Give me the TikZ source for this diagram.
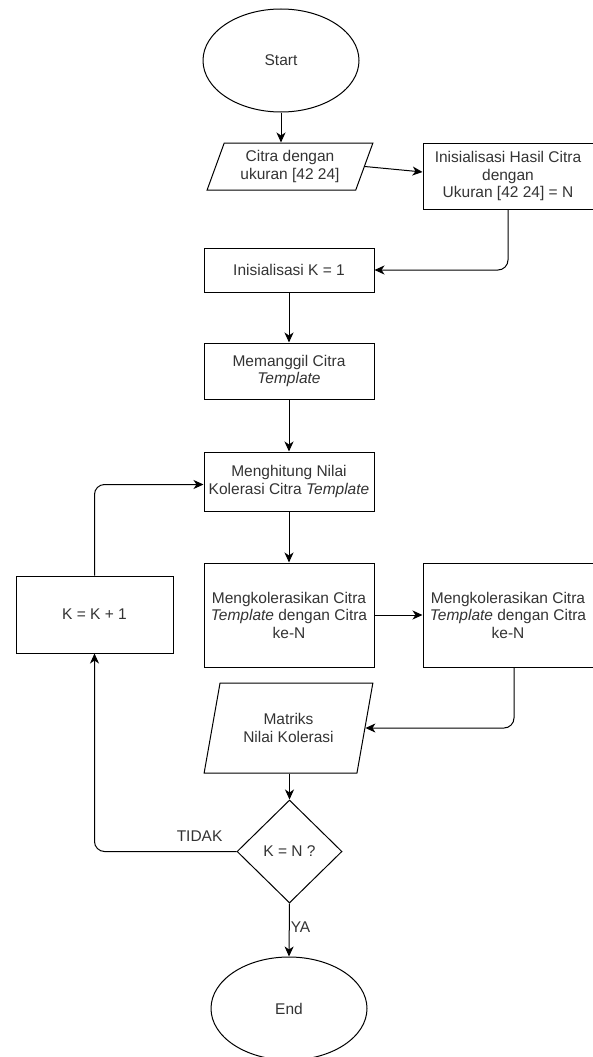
\documentclass[tikz,border=0pt]{standalone}
\usepackage{fontspec}
\setmainfont{Liberation Sans}
\usetikzlibrary{shapes.geometric}
\usetikzlibrary{arrows.meta}
\definecolor{txtgrey}{HTML}{333333}
\tikzset{
  box/.style={draw, line width=1pt, inner sep=0pt, align=center, text=txtgrey, font=\fontsize{15.5}{17.5}\selectfont},
  proc/.style={box, rectangle, minimum width=170pt},
  io/.style={box, trapezium, trapezium stretches=true},
  term/.style={box, ellipse, minimum width=156pt, minimum height=103pt},
  decide/.style={box, diamond, minimum width=105pt, minimum height=103pt},
  arr/.style={draw, line width=1pt, -{Stealth[length=10pt,width=9pt,inset=3pt]}},
  lbl/.style={text=txtgrey, font=\fontsize{15.5}{17.5}\selectfont, inner sep=0pt}
}

\begin{document}
\begin{tikzpicture}[x=1pt, y=-1pt]
        \useasboundingbox (0,0) rectangle (592,1057);
        \node[term] (start) at (281,60.5) {Start};
        \node[io, trapezium left angle=68, trapezium right angle=112, minimum width=166pt, minimum height=47pt] (citra) at (290,166.5) {Citra dengan\\ukuran [42 24]};
        \node[proc, minimum height=66pt] (hasil) at (508,176) {Inisialisasi Hasil Citra\\dengan\\Ukuran [42 24] = N};
        \node[proc, minimum height=44pt] (initk) at (289,270) {Inisialisasi K = 1};
        \node[proc, minimum height=56pt] (panggil) at (289,371) {Memanggil Citra\\\textit{Template}};
        \node[proc, minimum height=59pt] (hitung) at (289,481.5) {Menghitung Nilai\\Kolerasi Citra \textit{Template}};
        \node[proc, minimum height=104pt] (korel1) at (289,615) {Mengkolerasikan Citra\\\textit{Template} dengan Citra\\ke-N};
        \node[proc, minimum height=104pt] (korel2) at (508,615) {Mengkolerasikan Citra\\\textit{Template} dengan Citra\\ke-N};
        \node[proc, minimum width=157pt, minimum height=77pt] (tambah) at (94.5,614.5) {K = K + 1};
        \node[io, trapezium left angle=70, trapezium right angle=110, minimum width=169pt, minimum height=90pt] (matriks) at (288.5,728) {Matriks\\Nilai Kolerasi};
        \node[decide] (cek) at (289.5,851.5) {K = N ?};
        \node[term] (stop) at (289,1008.5) {End};

        \draw[arr] (start.south) -- (start.south |- citra.north);
        \draw[arr] (citra.east) -- ([yshift=4pt]hasil.west);
        \draw[arr, rounded corners=10pt] (hasil.south) |- (initk.east);
        \draw[arr] (initk) -- (panggil);
        \draw[arr] (panggil) -- (hitung);
        \draw[arr] (hitung) -- (korel1);
        \draw[arr] (korel1) -- (korel2);
        \draw[arr, rounded corners=10pt] ([xshift=6pt]korel2.south) |- (matriks.east);
        \draw[arr] (cek.north |- matriks.south) -- (cek.north);
        \draw[arr, rounded corners=10pt] (cek.west) -- node[lbl, above=9.5pt, pos=0.26] {TIDAK} (tambah.south |- cek.west) -- (tambah.south);
        \draw[arr, rounded corners=10pt] (tambah.north) |- ([yshift=-3pt]hitung.west);
        \draw[arr] (cek.south) -- node[lbl, right=1pt, pos=0.44] {YA} (stop.north);
    \end{tikzpicture}
\end{document}
